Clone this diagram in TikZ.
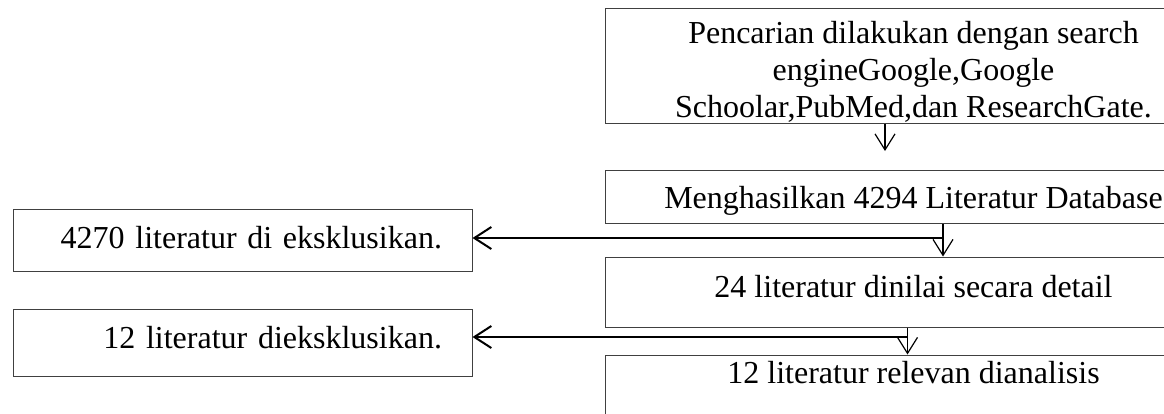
\documentclass[tikz,border=0pt]{standalone}
\usepackage{fontspec}
\setmainfont{Liberation Serif}
\usetikzlibrary{arrows.meta}

\begin{document}
\begin{tikzpicture}[x=1pt, y=-1pt,
    stage/.style={
        draw=black!75,
        line width=1pt,
        rectangle,
        inner sep=0pt,
        minimum width=617pt,
        text depth=0pt,
        font=\fontsize{32}{37}\selectfont
    },
    drop/.style={
        draw=black!75,
        line width=1pt,
        rectangle,
        inner xsep=30pt,
        inner ysep=0pt,
        minimum width=459pt,
        text width=399pt,
        align=right,
        text depth=0pt,
        font=\fontsize{32}{37}\selectfont
    },
    down/.style={
        -{Straight Barb[length=16pt,width=20pt]},
        line width=1.2pt
    },
    cut/.style={
        -{Straight Barb[length=17pt,width=22pt]},
        line width=2pt
    }
]

\node[stage, minimum height=115pt, align=center, text height=103pt, text depth=0pt]
(search) at (913.5,65.5)
{Pencarian dilakukan dengan search\\ engineGoogle,Google\\ Schoolar,PubMed,dan ResearchGate.};

\node[stage, minimum height=53pt, text height=22pt]
(db) at (913.5,197)
{Menghasilkan 4294 Literatur Database};

\node[stage, minimum height=70pt, text height=10pt]
(detail) at (913.5,292)
{24 literatur dinilai secara detail};

\node[stage, minimum height=70pt, text height=0pt, text depth=14pt]
(result) at (913.5,390)
{12 literatur relevan dianalisis};

\node[drop, minimum height=62pt, text height=16pt]
(elim1) at (242.5,240)
{4270 literatur di eksklusikan.};

\node[drop, minimum height=67pt, text height=11pt]
(elim2) at (242.5,342.5)
{12 literatur dieksklusikan.};

\coordinate (tip1) at (885,151);
\coordinate (j1) at (943,238);
\coordinate (j2) at (907.5,337);

\draw[down] (search.south -| tip1) -- (tip1);
\draw[down] (db.south -| j1) -- (detail.north -| j1);
\draw[down] (detail.south -| j2) -- (result.north -| j2);

\foreach \j/\e in {j1/elim1, j2/elim2}{
    \draw[cut] (\j) -- (\j -| \e.east);
}

\pgfresetboundingbox
\path[use as bounding box] (0,0) rectangle (1164,413);
\end{tikzpicture}
\end{document}
